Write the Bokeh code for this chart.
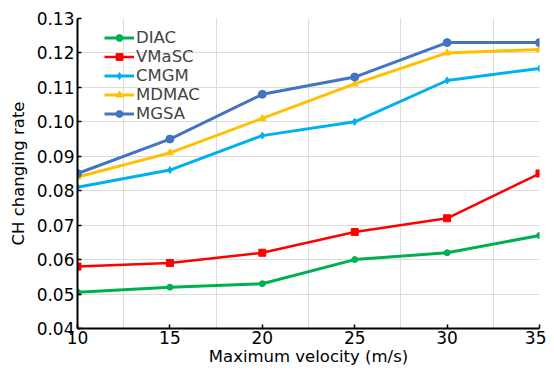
from bokeh.plotting import figure
from bokeh.models import FixedTicker, Legend, LegendItem, NumeralTickFormatter
from bokeh.embed import file_html
from bokeh.resources import INLINE

velocity = [10, 15, 20, 25, 30, 35]
diac = [0.0505, 0.052, 0.053, 0.060, 0.062, 0.067]
vmasc = [0.058, 0.059, 0.062, 0.068, 0.072, 0.085]
cmgm = [0.081, 0.086, 0.096, 0.100, 0.112, 0.1155]
mdmac = [0.084, 0.091, 0.101, 0.111, 0.120, 0.121]
mgsa = [0.085, 0.095, 0.108, 0.113, 0.123, 0.123]

y_ticks = [0.04, 0.05, 0.06, 0.07, 0.08, 0.09, 0.10, 0.11, 0.12, 0.13]
x_ticks = [10, 15, 20, 25, 30, 35]
x_grid = [12.5, 17.5, 22.5, 27.5, 32.5]

FONT = "DejaVu Sans"

p = figure(width=546, height=368, output_backend="svg", toolbar_location=None,
           x_range=(10, 35), y_range=(0.04, 0.13),
           min_border_left=77, min_border_right=7, min_border_top=18, min_border_bottom=40)
p.outline_line_color = None
p.background_fill_color = "white"

p.xgrid.ticker = FixedTicker(ticks=x_grid)
p.ygrid.ticker = FixedTicker(ticks=y_ticks)
for g in (p.xgrid[0], p.ygrid[0]):
    g.grid_line_color = "#dcdcdc"
    g.grid_line_width = 1

for ax in (p.xaxis[0], p.yaxis[0]):
    ax.axis_line_color = "black"
    ax.axis_line_width = 2
    ax.major_tick_in = 4
    ax.major_tick_out = 0
    ax.minor_tick_line_color = None
    ax.major_tick_line_color = "black"
    ax.major_tick_line_width = 1.5
    ax.major_label_text_font = FONT
    ax.major_label_text_font_size = "17px"
    ax.major_label_text_color = "black"
    ax.axis_label_text_font = FONT
    ax.axis_label_text_font_size = "16.5px"
    ax.axis_label_text_font_style = "normal"
    ax.axis_label_text_color = "black"

p.xaxis.ticker = FixedTicker(ticks=x_ticks)
p.yaxis.ticker = FixedTicker(ticks=y_ticks)
p.yaxis.formatter = NumeralTickFormatter(format="0.00")
p.xaxis.axis_label = "Maximum velocity (m/s)"
p.yaxis.axis_label = "CH changing rate"
p.xaxis.major_label_standoff = 2
p.yaxis.major_label_standoff = 3
p.xaxis.axis_label_standoff = 0
p.yaxis.axis_label_standoff = 6

series = [
    ("DIAC", diac, "#00B050", "circle", 6, 3),
    ("VMaSC", vmasc, "#FF0000", "square", 7, 2.5),
    ("CMGM", cmgm, "#00B0F0", "diamond", 7, 3),
    ("MDMAC", mdmac, "#FFC000", "triangle", 7, 3),
    ("MGSA", mgsa, "#4472C4", "circle", 8, 3),
]

items = []
for name, vals, color, marker, size, lw in series:
    r1 = p.line(velocity, vals, line_color=color, line_width=lw)
    r2 = p.scatter(velocity, vals, marker=marker, size=size, fill_color=color, line_color=color)
    items.append(LegendItem(label=name, renderers=[r1, r2]))

legend = Legend(items=items, location=(27, 205))
legend.border_line_color = None
legend.background_fill_alpha = 0
legend.label_text_font = FONT
legend.label_text_font_size = "16.5px"
legend.glyph_width = 30
legend.glyph_height = 17
legend.label_height = 17
legend.spacing = 0
legend.padding = 4
legend.label_standoff = 2
p.add_layout(legend)

open("out.html", "w").write(file_html(p, INLINE))
